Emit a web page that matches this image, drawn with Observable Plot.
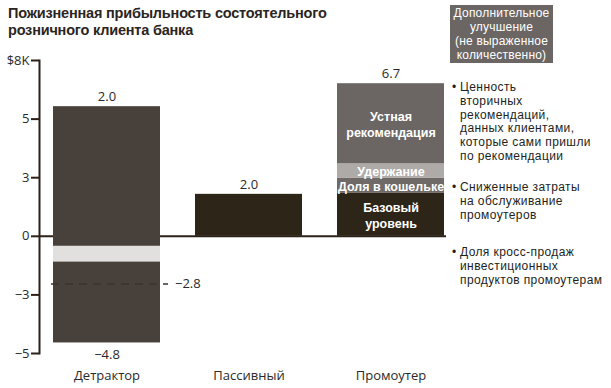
<!DOCTYPE html>
<html><head><meta charset="utf-8">
<script src="https://cdn.jsdelivr.net/npm/d3@7"></script>
<script src="https://cdn.jsdelivr.net/npm/@observablehq/plot@0.6"></script>
<style>
body{margin:0;background:#fff;font-family:"Open Sans",sans-serif;}
#wrap{position:relative;width:611px;height:388px;overflow:hidden;}
#chart{position:absolute;left:0;top:0;}
.title{position:absolute;left:8px;top:5px;font-family:"Liberation Sans",Arial,sans-serif;font-weight:700;font-size:14.5px;line-height:17px;color:#2a2522;letter-spacing:-0.2px;}
.box{position:absolute;left:450px;top:5px;width:103px;height:58px;background:#6b6663;color:#fff;font-family:"Liberation Sans",Arial,sans-serif;font-size:12px;line-height:14px;text-align:center;display:flex;align-items:center;justify-content:center;letter-spacing:0.2px;}
.bul{position:absolute;left:460px;font-family:"Liberation Sans",Arial,sans-serif;font-size:12px;line-height:13.8px;color:#231f1c;letter-spacing:0.4px;}
.bul::before{content:"•";position:absolute;left:-8px;top:0;}
</style>
</head><body>
<div id="wrap">
  <div id="chart"></div>
  <div class="title" id="title"></div>
  <div class="box" id="box"></div>
  <div id="notes"></div>
</div>
<script>
// ---- data ----
const title = ["Пожизненная прибыльность состоятельного", "розничного клиента банка"];
const boxText = ["Дополнительное", "улучшение", "(не выраженное", "количественно)"];
const notes = [
  ["Ценность", "вторичных", "рекомендаций,", "данных клиентами,", "которые сами пришли", "по рекомендации"],
  ["Сниженные затраты", "на обслуживание", "промоутеров"],
  ["Доля кросс-продаж", "инвестиционных", "продуктов промоутерам"]
];
const categories = ["Детрактор", "Пассивный", "Промоутер"];
const topLabels = ["2.0", "2.0", "6.7"];

const segCategory = ["Детрактор", "Детрактор", "Детрактор", "Пассивный", "Промоутер", "Промоутер", "Промоутер", "Промоутер"];
const segKind = ["Прибыль", "Разрыв", "Убыток", "Пассивный", "Базовый уровень", "Доля в кошельке", "Удержание", "Устная рекомендация"];
const segFrom = [-0.43, -1.10, -4.55, 0, 0, 1.83, 2.47, 3.09];
const segTo = [5.53, -0.43, -1.10, 1.79, 1.83, 2.47, 3.09, 6.51];
const segLabel = ["", "", "", "", "Базовый\nуровень", "Доля в кошельке", "Удержание", "Устная\nрекомендация"];

const lossLabel = "−4.8";
const netValue = -2.04;
const netLabel = "−2.8";

const yTicks = [-5, -2.5, 0, 2.5, 5, 7.5];
const yTickLabels = ["−5", "−3", "0", "3", "5", "$8K"];

// styles (kept separate from data)
const kindColors = ["#48413b", "#e1e0de", "#48413b", "#2e2519", "#2e2519", "#6f6a67", "#aeaaa7", "#6b6663"];
const ink = "#2b2118";

// ---- tables ----
const segs = segKind.map((k, i) => ({cat: segCategory[i], kind: k, y1: segFrom[i], y2: segTo[i], label: segLabel[i], mid: (segFrom[i] + segTo[i]) / 2}));
const tops = categories.map((c, i) => ({cat: c, y: d3.max(segs.filter(s => s.cat === c), s => s.y2), text: topLabels[i]}));
const detr = categories[0];
const bottom = [{cat: detr, y: d3.min(segs.filter(s => s.cat === detr), s => s.y1), text: lossLabel}];
const net = [{cat: detr, y: netValue, text: netLabel}];

const chart = Plot.plot({
  width: 611, height: 388,
  marginTop: 60, marginBottom: 35, marginLeft: 39, marginRight: 165,
  style: {fontFamily: "'Open Sans', sans-serif", background: "transparent"},
  x: {domain: categories, paddingInner: 0.25, paddingOuter: 0.049, align: 0.857, label: null},
  y: {domain: [-5, 7.5], label: null},
  color: {domain: segKind, range: kindColors},
  marks: [
    Plot.ruleY([0], {stroke: ink, strokeWidth: 2}),
    Plot.barY(segs, {x: "cat", y1: "y1", y2: "y2", fill: "kind"}),
    Plot.ruleY(net, {x1: "cat", x2: "cat", y: "y", stroke: "#3a3430", strokeWidth: 1.5, strokeDasharray: "8,6", insetLeft: -2, insetRight: -8}),
    Plot.text(net, {x: "cat", y: "y", text: "text", dx: 68, textAnchor: "start", fontSize: 13, fill: "#2a2a2a"}),
    Plot.text(tops, {x: "cat", y: "y", text: "text", dy: -10, fontSize: 13, fill: "#2a2a2a"}),
    Plot.text(bottom, {x: "cat", y: "y", text: "text", dy: 12, fontSize: 13, fill: "#2a2a2a"}),
    Plot.text(segs.filter(s => s.label), {x: "cat", y: "mid", text: "label", fill: "white", fontWeight: "bold", fontSize: 12.5, lineHeight: 1.3, fontFamily: "'Liberation Sans', Arial, sans-serif"}),
    Plot.frame({anchor: "left", stroke: ink, strokeWidth: 2}),
    Plot.axisY({ticks: yTicks, tickFormat: (d) => yTickLabels[yTicks.indexOf(d)], tickSize: 8, tickPadding: 2, fontSize: 13, stroke: ink, strokeWidth: 2, color: "#2a2a2a"}),
    Plot.axisX({tickSize: 0, tickPadding: 17, fontSize: 13, color: "#2a2a2a"})
  ]
});
document.getElementById("chart").appendChild(chart);

document.getElementById("title").innerHTML = title.join("<br>");
document.getElementById("box").innerHTML = "<div>" + boxText.join("<br>") + "</div>";
const noteTops = [81, 181, 246];
const notesEl = document.getElementById("notes");
notes.forEach((lines, i) => {
  const d = document.createElement("div");
  d.className = "bul";
  d.style.top = noteTops[i] + "px";
  d.innerHTML = lines.join("<br>");
  notesEl.appendChild(d);
});
</script>
</body></html>
